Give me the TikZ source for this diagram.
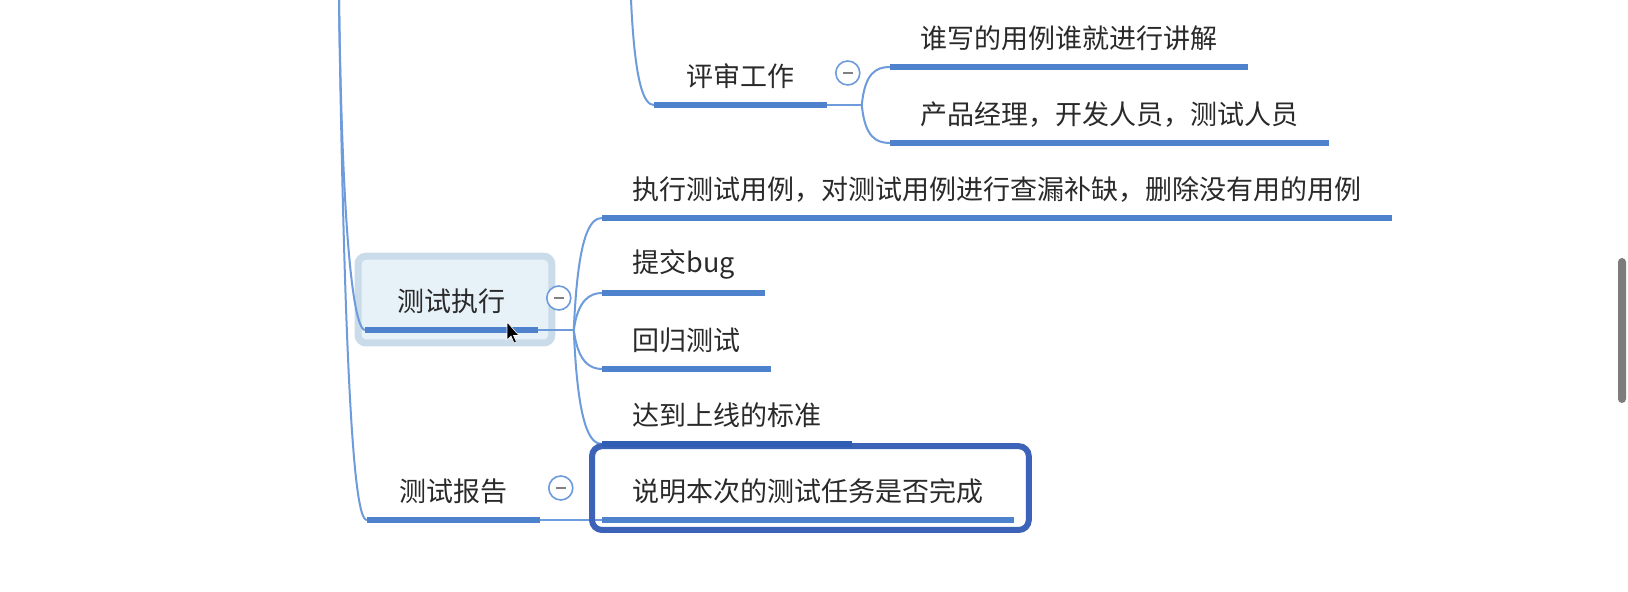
\documentclass[tikz,border=0pt]{standalone}
\usepackage{fontspec}
\newfontfamily\cjk{Noto Sans CJK SC}
\usetikzlibrary{backgrounds}
\definecolor{nhanhxanh}{HTML}{6E9BDB}
\definecolor{gachxanh}{HTML}{4F82CC}
\definecolor{gachdam}{HTML}{2F5DB3}
\definecolor{khungchon}{HTML}{3D63B8}
\definecolor{chuxam}{HTML}{2A2A2A}
\definecolor{nenxanh}{HTML}{E7F1F8}
\definecolor{vienxanh}{HTML}{CADBE9}
\definecolor{thanhcuon}{HTML}{7C7C7C}
\tikzset{
  chude/.style={anchor=south west, inner xsep=15pt, inner ysep=0pt, minimum height=28pt, text=chuxam, font=\cjk\fontsize{13.5pt}{16pt}\selectfont},
  chinh/.style={chude, inner xsep=16pt},
  nhanh/.style={draw=nhanhxanh, line width=1pt},
  gach/.style={draw=gachxanh, line width=3pt},
  nutthu/.style={circle, draw=nhanhxanh, line width=0.8pt, fill=white, minimum size=12pt, inner sep=0pt},
}

\begin{document}
\begin{tikzpicture}[x=0.5pt,y=-0.5pt]

        % Khung ảnh
        \useasboundingbox (0,0) rectangle (1628,592);

        % Điểm gốc của các nhánh (phía trên ảnh)
        \coordinate (goc) at (339,0);
        \coordinate (goc2) at (631,0);

        % Các chủ đề
        \node[chinh] (ps) at (654,105) {评审工作};
        \node[chude] (a1) at (890,67) {谁写的用例谁就进行讲解};
        \node[chude] (a2) at (890,143) {产品经理，开发人员，测试人员};
        \node[chinh] (te) at (365,330) {测试执行};
        \node[chude] (b1) at (602,218) {执行测试用例，对测试用例进行查漏补缺，删除没有用的用例};
        \node[chude] (b2) at (602,293) {提交bug};
        \node[chude] (b3) at (602,369) {回归测试};
        \node[chude] (b4) at (602,444) {达到上线的标准};
        \node[chinh] (tr) at (367,520) {测试报告};
        \node[chude] (sm) at (602,520) {说明本次的测试任务是否完成};

        % Nền trắng và khung chủ đề đang trỏ chuột
        \begin{scope}[on background layer]
          \fill[white] (0,0) rectangle (1628,592);
          \draw[draw=vienxanh, fill=nenxanh, line width=3.5pt, rounded corners=4pt]
            ([xshift=-3.5pt,yshift=8.5pt]te.north west) rectangle ([xshift=7pt,yshift=-6.5pt]te.south east);
        \end{scope}

        % Các nhánh chính
        \draw[nhanh] (goc) .. controls +(4,280) and +(-8,0) .. (te.south west);
        \draw[nhanh] (goc) .. controls +(7,480) and +(-8,0) .. (tr.south west);
        \draw[nhanh] (goc2) .. controls +(4,85) and +(-10,0) .. (ps.south west);

        % Nhánh con của 评审工作
        \coordinate (j1) at ([xshift=17.5pt]ps.south east);
        \draw[nhanh] (ps.south east) -- (j1);
        \draw[nhanh] (j1) .. controls +(3,-32) and +(-14,0) .. (a1.south west);
        \draw[nhanh] (j1) .. controls +(3,32) and +(-14,0) .. (a2.south west);

        % Nhánh con của 测试执行
        \coordinate (j2) at ([xshift=18pt]te.south east);
        \draw[nhanh] (te.south east) -- (j2);
        \foreach \con/\dy in {b1/-95,b2/-30,b3/32,b4/97}
          \draw[nhanh] (j2) .. controls +(4,\dy) and +(-12,0) .. (\con.south west);

        % Nhánh con của 测试报告
        \draw[nhanh] (tr.south east) -- (sm.south west);

        % Gạch chân các chủ đề
        \foreach \n in {ps,a1,a2,te,b1,b2,b3,tr,sm}
          \draw[gach] (\n.south west) -- (\n.south east);

        % Nút thu gọn
        \foreach \n/\c in {ps/c1,te/c2,tr/c3} {
          \node[nutthu] (\c) at ([xshift=10.5pt,yshift=16pt]\n.south east) {};
          \draw[gray, line width=0.6pt] ([xshift=-2.5pt]\c.center) -- ([xshift=2.5pt]\c.center);
        }

        % Khung chủ đề được chọn
        \draw[khungchon, line width=3pt, rounded corners=5pt]
          ([xshift=-5pt,yshift=8.5pt]sm.north west) rectangle ([xshift=7.5pt,yshift=-5pt]sm.south east);
        \draw[gach, draw=gachdam] (b4.south west) -- (b4.south east);

        % Con trỏ chuột
        \draw[fill=black, draw=white, line width=0.3pt] (507,322) -- (507,340) -- (511,336) -- (514,343) -- (516.5,342) -- (513.5,335.5) -- (519,335.5) -- cycle;

        % Thanh cuộn
        \fill[thanhcuon, rounded corners=2pt] (1618,258) rectangle (1626,403);

\end{tikzpicture}
\end{document}
